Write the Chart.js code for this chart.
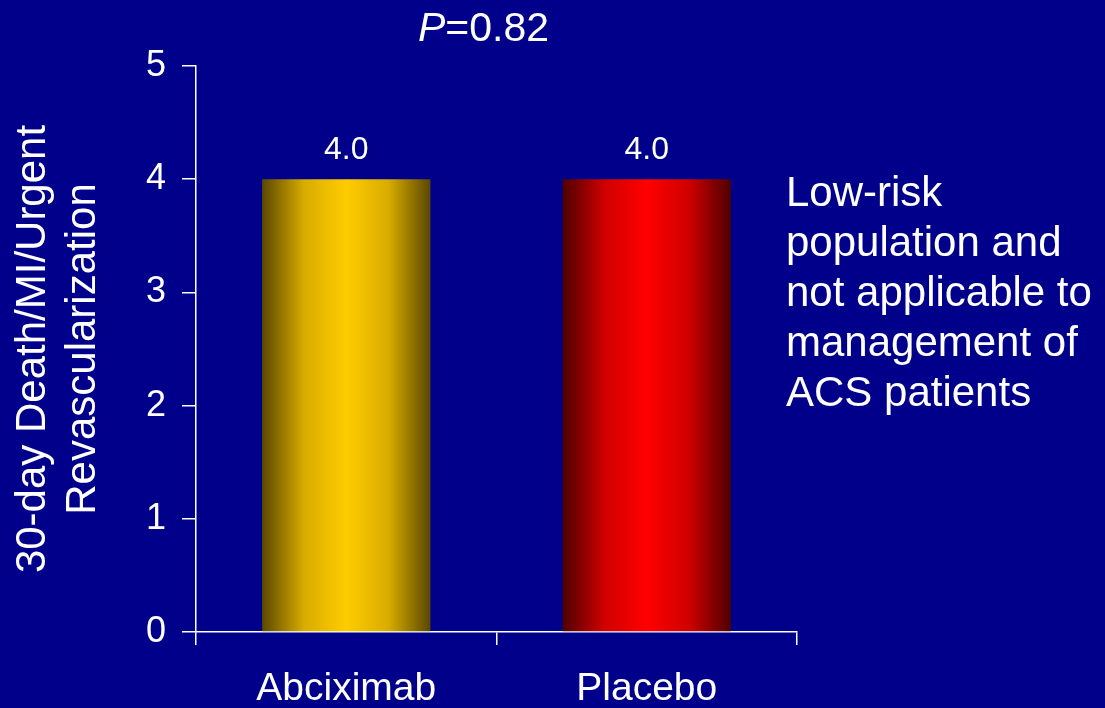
<!DOCTYPE html>
<html>
<head>
<meta charset="utf-8">
<script src="https://cdn.jsdelivr.net/npm/chart.js@4"></script>
<style>
  html, body { margin: 0; padding: 0; background: #00008b; }
  #wrap { width: 1105px; height: 708px; }
</style>
</head>
<body>
<div id="wrap"><canvas id="trial-chart" width="1105" height="708"></canvas></div>
<script>
// Chart data
const groups = ['Abciximab', 'Placebo'];
const eventRates = [4.0, 4.0];
const yTicks = [0, 1, 2, 3, 4, 5];
const yTitle = ['30-day Death/MI/Urgent', 'Revascularization'];
const pItalic = 'P';
const pValue = '=0.82';
const noteLines = ['Low-risk', 'population and', 'not applicable to', 'management of', 'ACS patients'];

const font = "'Liberation Sans', Arial, sans-serif";
const barColors = [
    { edge: '#5a4800', mid: '#d8ac00', center: '#ffcc00' },
    { edge: '#4e0000', mid: '#d00000', center: '#ff0000' }
];

const barGradient = ctx => {
    const chart = ctx.chart;
    const c = barColors[ctx.dataIndex % barColors.length];
    if (!chart.chartArea || ctx.type !== 'data') return c.center;
    const x = chart.scales.x.getPixelForValue(ctx.dataIndex);
    const half = chart.scales.x.width / groups.length * 0.56 / 2;
    const g = chart.ctx.createLinearGradient(x - half, 0, x + half, 0);
    g.addColorStop(0, c.edge);
    g.addColorStop(0.25, c.mid);
    g.addColorStop(0.5, c.center);
    g.addColorStop(0.75, c.mid);
    g.addColorStop(1, c.edge);
    return g;
};

// background, value labels, P value and side note
const slideText = {
    id: 'slideText',
    beforeDraw(chart) {
        const ctx = chart.ctx;
        ctx.save();
        ctx.fillStyle = '#00008b';
        ctx.fillRect(0, 0, chart.width, chart.height);
        ctx.restore();
    },
    afterDatasetsDraw(chart) {
        const ctx = chart.ctx;
        ctx.save();
        ctx.fillStyle = '#ffffff';
        ctx.textAlign = 'center';
        ctx.textBaseline = 'middle';
        ctx.font = '32px ' + font;
        chart.getDatasetMeta(0).data.forEach((bar, i) => {
            ctx.fillText(eventRates[i].toFixed(1), bar.x, bar.y - 29);
        });

        // P value, italic P
        ctx.textAlign = 'left';
        ctx.textBaseline = 'alphabetic';
        ctx.font = 'italic 41px ' + font;
        const px = 418;
        ctx.fillText(pItalic, px, 41);
        const pw = ctx.measureText(pItalic).width;
        ctx.font = '41px ' + font;
        ctx.fillText(pValue, px + pw, 41);

        // note on the right
        ctx.font = '42px ' + font;
        noteLines.forEach((line, i) => {
            ctx.fillText(line, 786, 206 + i * 50);
        });
        ctx.restore();
    }
};

const trialChart = new Chart(document.getElementById('trial-chart').getContext('2d'), {
    type: 'bar',
    data: {
        labels: groups,
        datasets: [{
            data: eventRates,
            backgroundColor: barGradient,
            borderWidth: 0,
            barPercentage: 0.56,
            categoryPercentage: 1
        }]
    },
    options: {
        responsive: false,
        animation: false,
        layout: { padding: { top: 66, right: 308, bottom: 0, left: 0 } },
        plugins: {
            legend: { display: false },
            tooltip: { enabled: false }
        },
        scales: {
            x: {
                grid: {
                    offset: true,
                    drawOnChartArea: false,
                    drawTicks: true,
                    tickLength: 13,
                    color: '#ffffff',
                    lineWidth: 1.5
                },
                border: { color: '#ffffff', width: 1.5 },
                ticks: {
                    color: '#ffffff',
                    padding: 25,
                    font: { family: font, size: 39, lineHeight: 1 }
                },
                afterFit: scale => { scale.height = 76; }
            },
            y: {
                min: 0,
                max: 5,
                afterBuildTicks: scale => { scale.ticks = yTicks.map(v => ({ value: v })); },
                grid: {
                    drawOnChartArea: false,
                    drawTicks: true,
                    tickLength: 14,
                    color: '#ffffff',
                    lineWidth: 1.5
                },
                border: { color: '#ffffff', width: 1.5 },
                ticks: {
                    color: '#ffffff',
                    padding: 16,
                    font: { family: font, size: 36 }
                },
                title: {
                    display: true,
                    text: yTitle,
                    color: '#ffffff',
                    padding: { top: 8, bottom: 0 },
                    font: { family: font, size: 42, lineHeight: 1.19 }
                },
                afterFit: scale => { scale.width = 196; }
            }
        }
    },
    plugins: [slideText]
});
</script>
</body>
</html>
